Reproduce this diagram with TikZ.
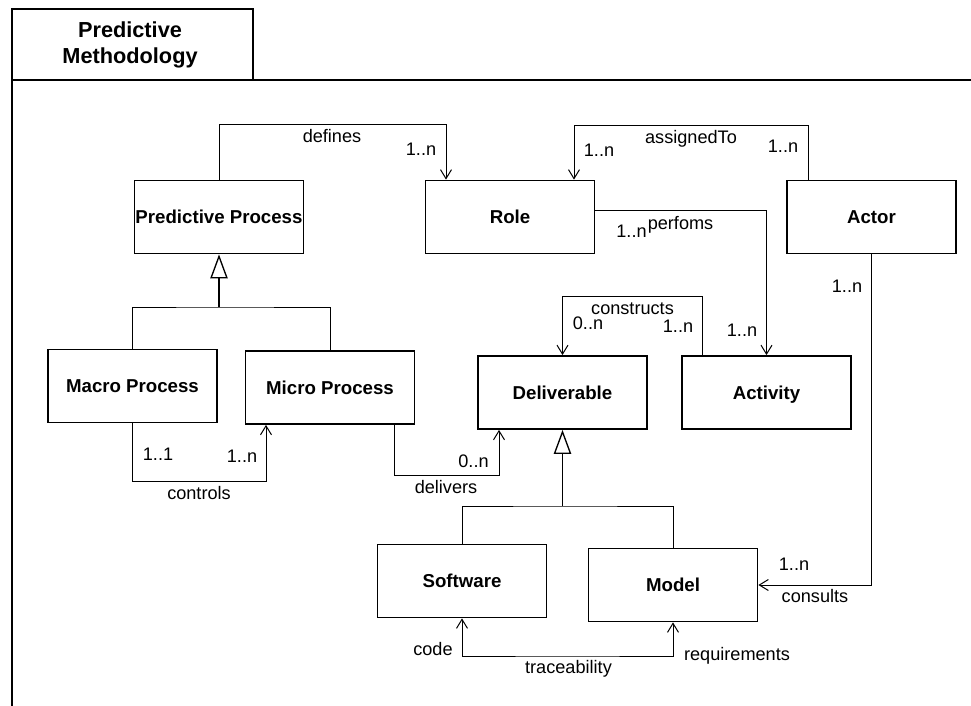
\documentclass[tikz,border=0pt]{standalone}
\usepackage{fontspec}
\setmainfont{Liberation Sans}
\usetikzlibrary{arrows.meta}

\tikzset{every picture/.style={line width=0.75pt}}
\tikzset{
  classbox/.style={draw, line width=1.1pt, minimum width=127pt, minimum height=55pt, inner sep=0pt,
    font=\fontsize{14}{16}\selectfont\bfseries, text height=10pt, text depth=0pt},
  pkgtitle/.style={inner sep=0pt, align=center, font=\fontsize{16.3}{19.5}\selectfont\bfseries},
  lbl/.style={inner sep=0pt, font=\fontsize{13.6}{16}\selectfont, text height=9.75pt, text depth=0pt},
  assoc/.style={line width=0.75pt, -{Straight Barb[length=6.75pt,width=8.25pt]}},
  assocboth/.style={line width=0.75pt, {Straight Barb[length=6.75pt,width=8.25pt]}-{Straight Barb[length=6.75pt,width=8.25pt]}},
  inherit/.style={line width=1pt, -{Triangle[open,length=18pt,width=13pt]}},
  genline/.style={line width=0.75pt},
}

\begin{document}
\begin{tikzpicture}[x=0.75pt,y=0.75pt,yscale=-1,xscale=1]
	\useasboundingbox (0,0) rectangle (971,706);

	%Shape: Package frame
	\draw [line width=1pt] (12,9) rectangle (253,80) ;
	\draw [line width=1pt] (12,706) -- (12,80) -- (971,80) ;
	\node [pkgtitle] (pkgTitle) at (130,45) {Predictive\\Methodology};

	%Shape: Classes
	\node [classbox] (pp) at (219,217) {Predictive Process};
	\node [classbox] (role) at (510,217) {Role};
	\node [classbox] (actor) at (871.5,217) {Actor};
	\node [classbox] (macro) at (132.5,386) {Macro Process};
	\node [classbox] (micro) at (330,387.5) {Micro Process};
	\node [classbox] (deliv) at (562.5,392.5) {Deliverable};
	\node [classbox] (activ) at (766.5,392.5) {Activity};
	\node [classbox] (soft) at (462,581) {Software};
	\node [classbox] (model) at (673,585) {Model};

	%Bend points
	\coordinate (genA) at (219,307);
	\coordinate (genB) at (562.5,506);
	\coordinate (defC) at (446,125);
	\coordinate (asgL) at (574,126);
	\coordinate (asgR) at (808,126);
	\coordinate (perfC) at (766.5,211);
	\coordinate (conR) at (702,296);
	\coordinate (ctlR) at (266,481);
	\coordinate (delL) at (394,475);
	\coordinate (delR) at (499,475);
	\coordinate (trc) at (567,656);

	%Straight Lines: generalisations
	\draw [genline] (macro.north) |- (genA) -| (micro.north) ;
	\draw [inherit] (genA) -- (pp.south) ;
	\draw [genline] (soft.north) |- (genB) -| (model.north) ;
	\draw [inherit] (genB) -- (deliv.south) ;

	%Straight Lines: associations
	\draw [assoc] (pp.north) |- (defC) -- (defC |- role.north) ;
	\draw [assoc] (asgR |- actor.north) -- (asgR) -- (asgL) -- (asgL |- role.north) ;
	\draw [assoc] (perfC -| role.east) -- (perfC) -- (activ.north) ;
	\draw [assoc] (conR |- activ.north) -- (conR) -| (deliv.north) ;
	\draw [assoc] (actor.south) |- (model.east) ;
	\draw [assoc] (macro.south) |- (ctlR) -- (ctlR |- micro.south) ;
	\draw [assoc] (delL |- micro.south) -- (delL) -- (delR) -- (delR |- deliv.south) ;
	\draw [assocboth] (soft.south) |- (trc) -| (model.south) ;

	% Text Node
	\node [lbl] (defLbl) at (332,136.5) {defines};
	\node [lbl] (defMult) at (421,149.5) {1..n};
	% Text Node
	\node [lbl] (asgLbl) at (691,137) {assignedTo};
	\node [lbl] (asgMultL) at (599,150) {1..n};
	\node [lbl] (asgMultR) at (783,146.5) {1..n};
	% Text Node
	\node [lbl] (perfMultA) at (631.5,231.5) {1..n};
	\node [lbl] (perfLbl) at (680.5,222.5) {perfoms};
	\node [lbl] (perfMultB) at (742,330) {1..n};
	% Text Node
	\node [lbl] (conLbl) at (632.5,308) {constructs};
	\node [lbl] (conMultL) at (588,323) {0..n};
	\node [lbl] (conMultR) at (678,326) {1..n};
	% Text Node
	\node [lbl] (ctlMultL) at (158,454) {1..1};
	\node [lbl] (ctlMultR) at (242,456) {1..n};
	\node [lbl] (ctlLbl) at (199,493) {controls};
	% Text Node
	\node [lbl] (delMult) at (473.5,461) {0..n};
	\node [lbl] (delLbl) at (446,487) {delivers};
	% Text Node
	\node [lbl] (cnsMultA) at (847,286) {1..n};
	\node [lbl] (cnsMultB) at (794,563.5) {1..n};
	\node [lbl] (cnsLbl) at (815,596) {consults};
	% Text Node
	\node [lbl] (trcCode) at (433,649) {code};
	\node [lbl] (trcLbl) at (568.5,667) {traceability};
	\node [lbl] (trcReq) at (737,654) {requirements};

\end{tikzpicture}
\end{document}
